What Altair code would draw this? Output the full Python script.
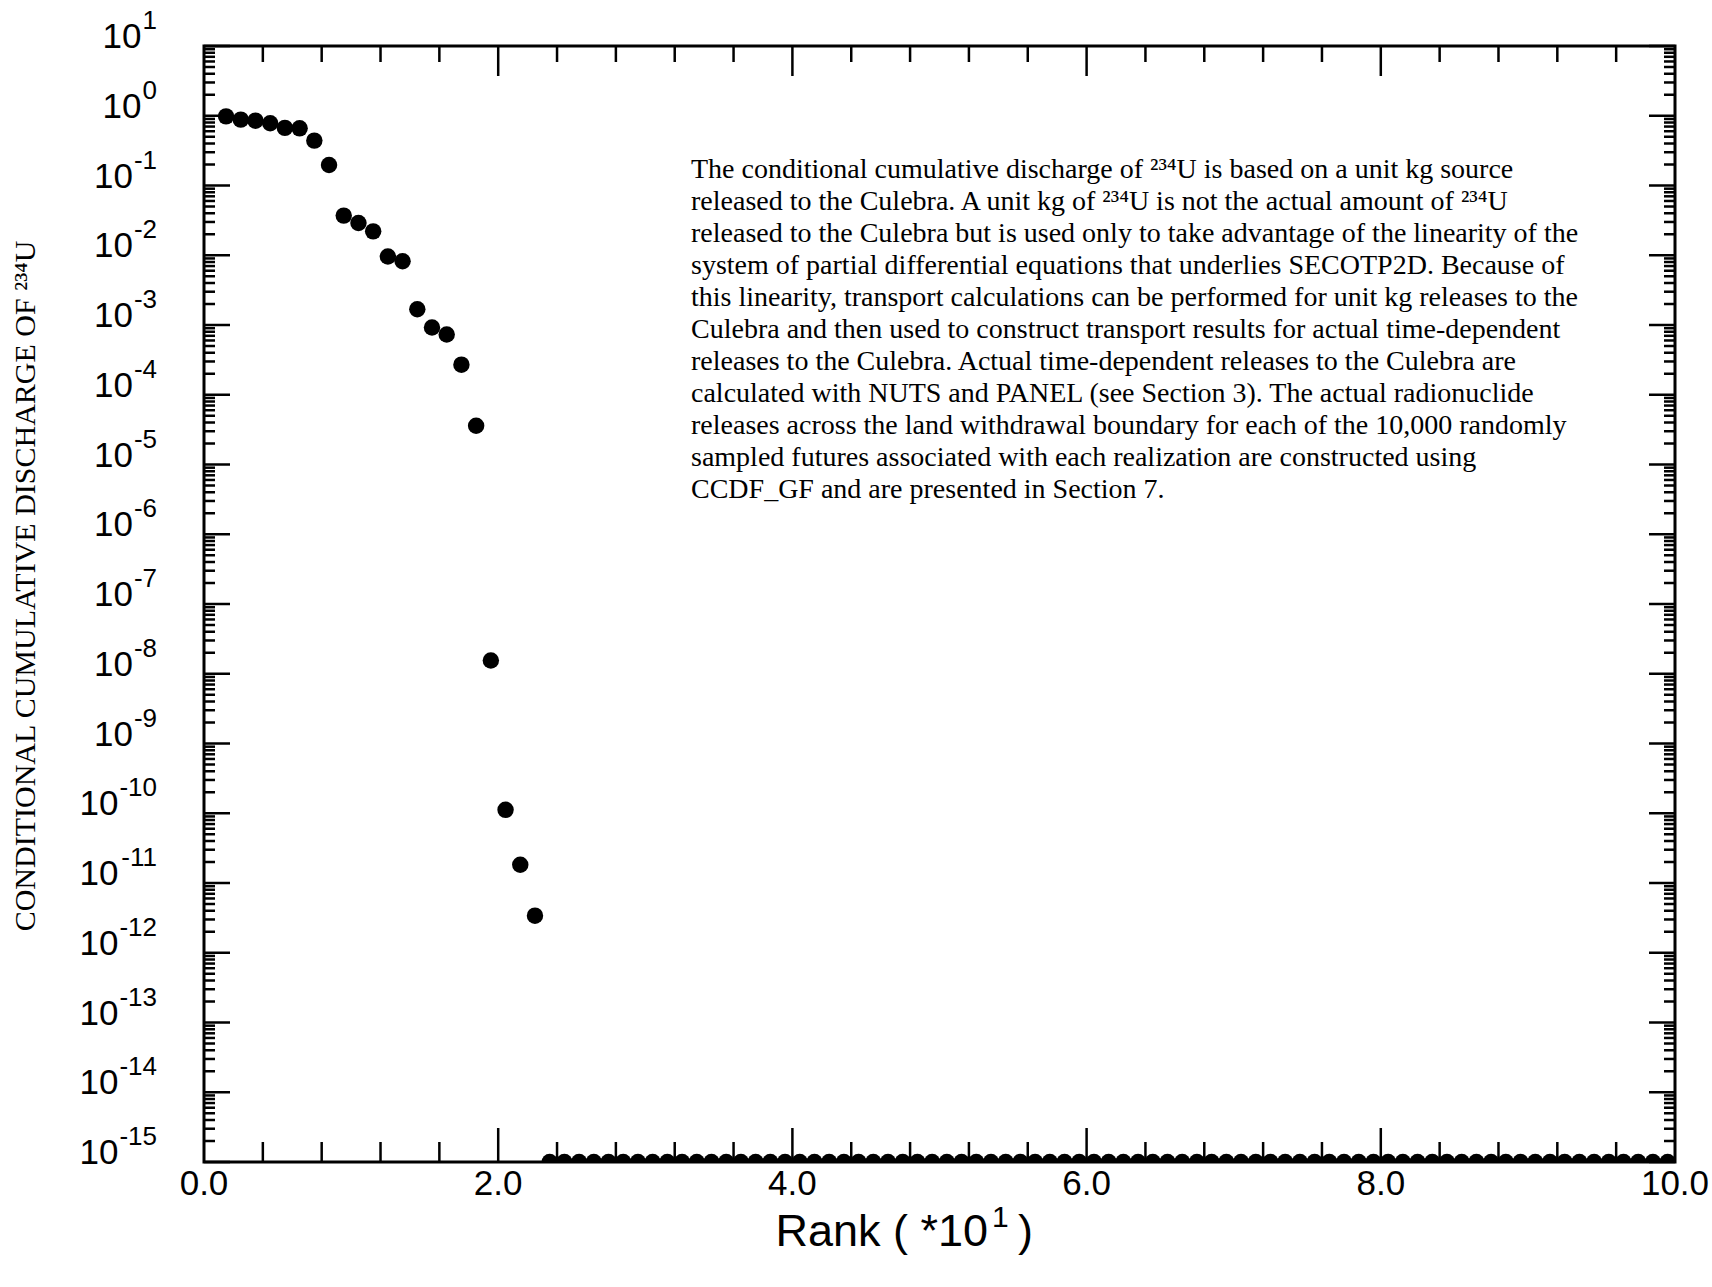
import altair as alt
import pandas as pd

# ---------------- data ----------------
ranks = list(range(1, 100))
# horizontal position of each rank on the "Rank (*10^1)" axis
rank_pos = [round(0.05 + 0.1 * r, 2) for r in ranks]
discharge_head = [0.98, 0.88, 0.85, 0.78, 0.67, 0.66, 0.44, 0.197, 0.037, 0.029,
                  0.022, 0.0096, 0.0082, 0.00168, 9.2e-4, 7.3e-4, 2.7e-4, 3.6e-5,
                  1.55e-8, 1.12e-10, 1.83e-11, 3.4e-12]
discharge_floor = [1e-15] * (len(ranks) - len(discharge_head))
discharge = discharge_head + discharge_floor

x_labels_at = [0.0, 2.0, 4.0, 6.0, 8.0, 10.0]
x_label_text = ["0.0", "2.0", "4.0", "6.0", "8.0", "10.0"]
x_ticks_small = [0.4, 0.8, 1.2, 1.6, 2.4, 2.8, 3.2, 3.6, 4.4, 4.8, 5.2, 5.6,
                 6.4, 6.8, 7.2, 7.6, 8.4, 8.8, 9.2, 9.6]
x_ticks_big = [2.0, 4.0, 6.0, 8.0]
decade_exp = list(range(-15, 2))
y_major = [10.0 ** e for e in decade_exp]
y_minor = [m * 10.0 ** e for e in range(-15, 1) for m in range(2, 10)]
y_label_base = "10"
y_label_exp = [str(e) for e in decade_exp]
x_title_main = "Rank ( *10"
x_title_sup = "1"
x_title_end = ")"
y_title = "CONDITIONAL CUMULATIVE DISCHARGE OF ²³⁴U"

note_lines = [
    "The conditional cumulative discharge of ²³⁴U is based on a unit kg source",
    "released to the Culebra.  A unit kg of ²³⁴U is not the actual amount of ²³⁴U",
    "released to the Culebra but is used only to take advantage of the linearity of the",
    "system of partial differential equations that underlies SECOTP2D.  Because of",
    "this linearity, transport calculations can be performed for unit kg releases to the",
    "Culebra and then used to construct transport results for actual time-dependent",
    "releases to the Culebra.   Actual time-dependent releases to the Culebra are",
    "calculated with NUTS and PANEL (see Section 3).  The actual radionuclide",
    "releases across the land withdrawal boundary for each of the 10,000 randomly",
    "sampled futures associated with each realization are constructed using",
    "CCDF_GF and are presented in Section 7.",
]

# ---------------- layout ----------------
W, H = 1471, 1116
TOP = 46
SANS = "Liberation Sans"
SERIF = "Liberation Serif"
BASE_FS, EXP_FS = 35, 26
LAB_RIGHT = -47

xs = alt.Scale(domain=[0, 10], nice=False, zero=False)
ys = alt.Scale(type="log", domain=[1e-15, 10], nice=False)

df = pd.DataFrame({"x": rank_pos, "v": discharge})

points = alt.Chart(df).mark_point(filled=True, shape="circle", size=270, color="black",
                                  opacity=1, clip=True).encode(
    x=alt.X("x:Q", scale=xs, axis=None),
    y=alt.Y("v:Q", scale=ys, axis=None),
)

ymaj_df = pd.DataFrame({"t": y_major})
ymin_df = pd.DataFrame({"t": y_minor})
xs_df = pd.DataFrame({"t": x_ticks_small})
xb_df = pd.DataFrame({"t": x_ticks_big})

def yrule(d, x0, x1):
    return alt.Chart(d).mark_rule(color="black", strokeWidth=2.5).encode(
        y=alt.Y("t:Q", scale=ys, axis=None), x=alt.value(x0), x2=alt.value(x1))

def xrule(d, y0, y1):
    return alt.Chart(d).mark_rule(color="black", strokeWidth=2.5).encode(
        x=alt.X("t:Q", scale=xs, axis=None), y=alt.value(y0), y2=alt.value(y1))

ticks = [
    yrule(ymaj_df, 0, 26), yrule(ymin_df, 0, 11),
    yrule(ymaj_df, W, W - 26), yrule(ymin_df, W, W - 11),
    xrule(xs_df, H, H - 20), xrule(xb_df, H, H - 34),
    xrule(xs_df, 0, 16), xrule(xb_df, 0, 30),
]

# ---- y tick labels: "10" with a raised exponent, right-aligned as a whole ----
ylab_df = pd.DataFrame({"t": y_major, "exp": y_label_exp, "base": y_label_base})
ylab_df["nchar"] = ylab_df["exp"].str.len()

exp_layer = alt.Chart(ylab_df).mark_text(
    align="right", baseline="middle", font=SANS, fontSize=EXP_FS, color="black", dy=-25
).encode(y=alt.Y("t:Q", scale=ys, axis=None), x=alt.value(LAB_RIGHT), text="exp:N")

# width of the exponent string (digits 0.556 em, hyphen 0.333 em)
digit_w, minus_w = 0.556 * EXP_FS, 0.333 * EXP_FS
base_layers = []
for n in sorted(ylab_df["nchar"].unique()):
    sub = ylab_df[ylab_df["nchar"] == n]
    has_minus = sub["exp"].iloc[0].startswith("-")
    w = digit_w * (n - (1 if has_minus else 0)) + (minus_w if has_minus else 0)
    base_layers.append(alt.Chart(sub).mark_text(
        align="right", baseline="middle", font=SANS, fontSize=BASE_FS, color="black", dy=-9
    ).encode(y=alt.Y("t:Q", scale=ys, axis=None), x=alt.value(LAB_RIGHT - w - 1),
             text="base:N"))

xlab = alt.Chart(pd.DataFrame({"t": x_labels_at, "lab": x_label_text})).mark_text(
    align="center", baseline="middle", font=SANS, fontSize=35, color="black"
).encode(x=alt.X("t:Q", scale=xs, axis=None), y=alt.value(H + 22), text="lab:N")

xtitle = alt.Chart(pd.DataFrame({"lab": [x_title_main]})).mark_text(
    align="right", baseline="alphabetic", font=SANS, fontSize=45, color="black"
).encode(x=alt.value(784), y=alt.value(H + 84), text="lab:N")
xtitle_sup = alt.Chart(pd.DataFrame({"lab": [x_title_sup]})).mark_text(
    align="left", baseline="alphabetic", font=SANS, fontSize=30, color="black"
).encode(x=alt.value(788), y=alt.value(H + 65), text="lab:N")
xtitle_end = alt.Chart(pd.DataFrame({"lab": [x_title_end]})).mark_text(
    align="left", baseline="alphabetic", font=SANS, fontSize=45, color="black"
).encode(x=alt.value(814), y=alt.value(H + 84), text="lab:N")

ytitle = alt.Chart(pd.DataFrame({"lab": [y_title]})).mark_text(
    align="center", baseline="middle", font=SERIF, fontSize=30, color="black", angle=270
).encode(x=alt.value(-178), y=alt.value(540), text="lab:N")

note = alt.Chart(pd.DataFrame({"a": [0]})).mark_text(
    align="left", baseline="alphabetic", font=SERIF, fontSize=28, lineHeight=32,
    color="black", text=note_lines).encode(x=alt.value(487), y=alt.value(132))

chart = alt.layer(points, *ticks, exp_layer, *base_layers, xlab, xtitle, xtitle_sup,
                  xtitle_end, ytitle, note).properties(
    width=W, height=H,
    padding={"left": 204, "top": TOP, "right": 37, "bottom": 1287 - TOP - H},
    autosize=alt.AutoSizeParams(type="none"),
    background="white",
).configure_view(stroke="black", strokeWidth=3)

chart.save("out.html", embed_options={"renderer": "svg", "actions": False})
